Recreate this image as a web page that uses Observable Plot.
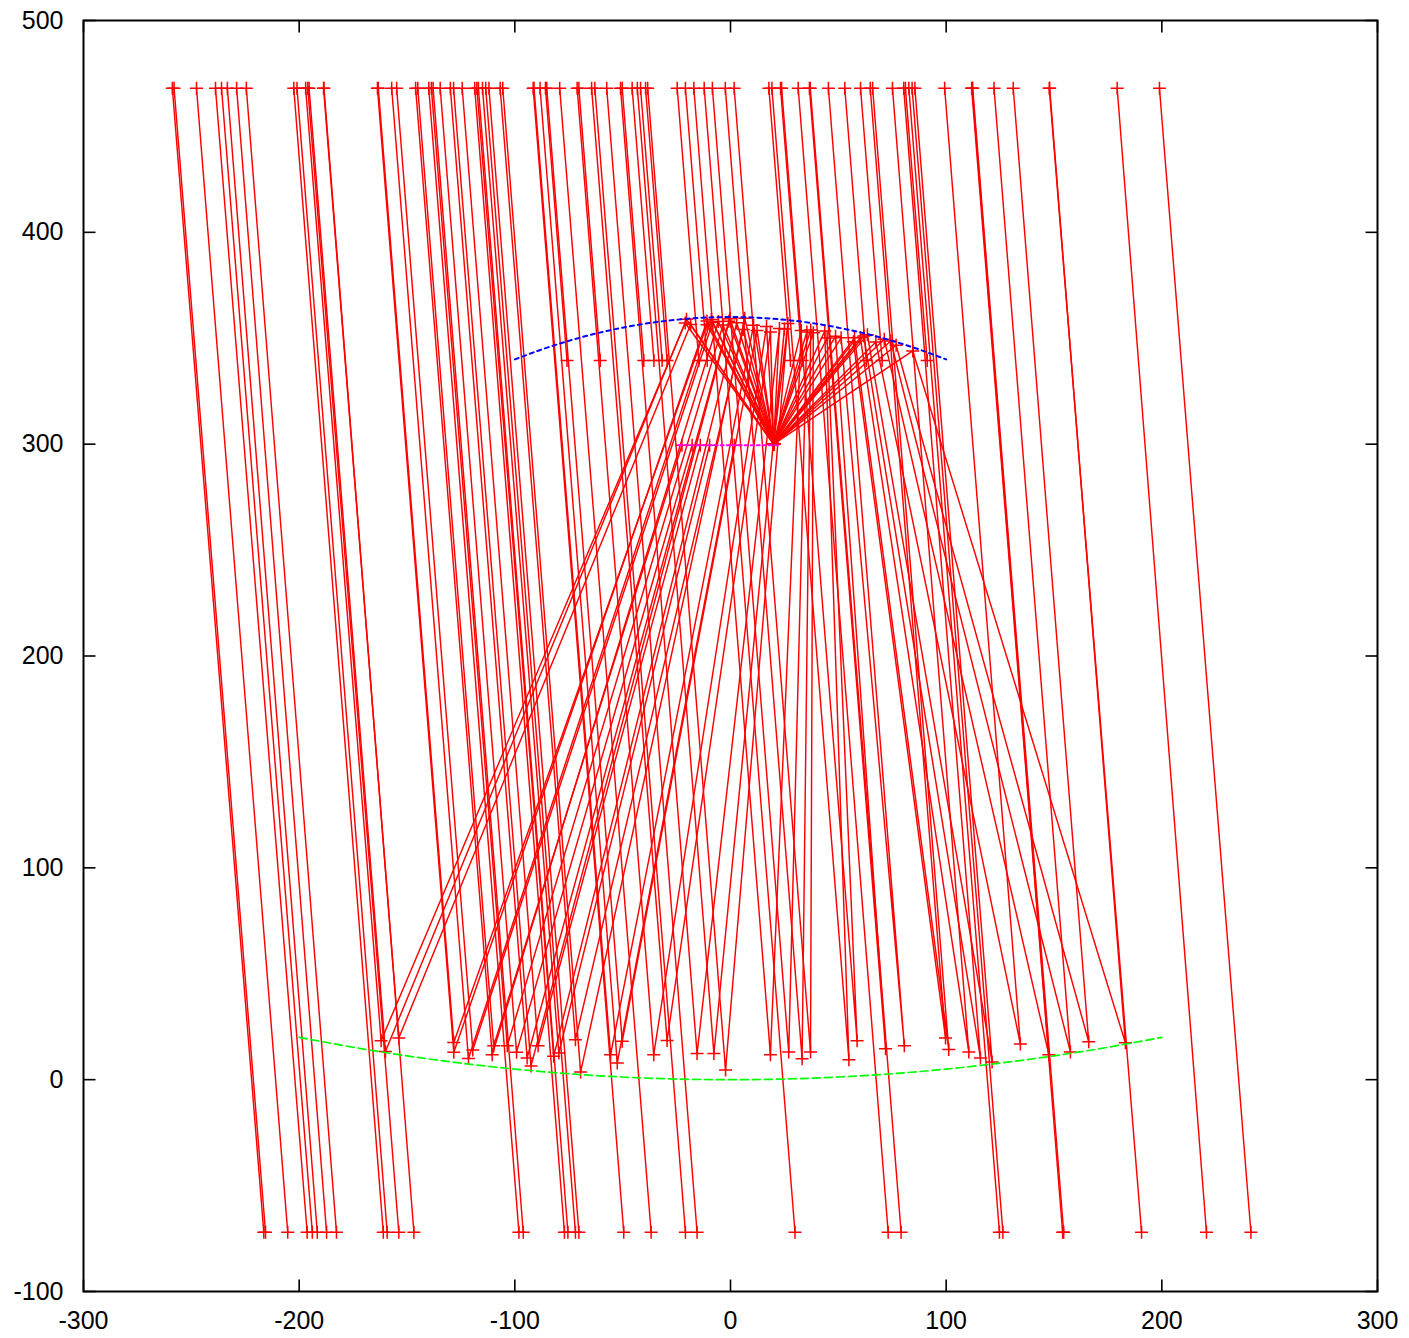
<!DOCTYPE html>
<html>
<head>
<meta charset="utf-8">
<script src="https://cdn.jsdelivr.net/npm/d3@7"></script>
<script src="https://cdn.jsdelivr.net/npm/@observablehq/plot@0.6"></script>
<style>
  html, body { margin: 0; padding: 0; background: #ffffff; overflow: hidden; }
  #chart { width: 1409px; height: 1338px; }
</style>
</head>
<body>
<div id="chart"></div>
<script>
// ---------- data ----------
const TOP_Y = 468;       // level where every ray enters
const BOTTOM_Y = -72;    // level where unreflected rays leave
const BLOCK_Y = 339.5;   // level where rays stop behind the secondary

// rays that pass straight through
const passTopX = [-258.8, -258.0, -247.6, -238.8, -236.0, -233.3, -229.0, -224.5, -202.5, -201.0, -196.0, -188.5,
  -139.9, -137.9, -118.6, -116.9, -113.5, -112.0, -91.5, -79.2, -62.9, -57.4, -12.2, 31.4, 37.0, 82.7, 84.2,
  111.8, 112.3, 147.8, 179.3, 198.9];
const passBottomX = [-216.4, -215.6, -205.3, -196.3, -193.9, -191.6, -187.3, -182.7, -161.0, -159.2, -153.8, -146.8,
  -98.1, -96.1, -77.0, -75.4, -71.9, -70.3, -49.5, -36.8, -20.9, -15.5, 29.9, 73.1, 79.1, 124.7, 126.3,
  154.0, 154.5, 190.6, 220.7, 241.3];

// rays stopped behind the secondary mirror
const blockTopX = [-85.8, -70.3, -50.2, -45.6, -41.7, -39.4, -24.7, -20.9, 17.8, 23.2, 53.0, 60.3, 81.1];
const blockX = [-75.8, -60.4, -40.2, -35.5, -31.7, -29.4, -14.7, -10.8, 27.8, 33.2, 63.0, 70.3, 91.2];

// rays reflected by the primary (then the secondary, then to the focus / detector)
const reflTopX = [-197.0, -195.4, -188.7, -163.3, -163.7, -157.1, -154.8, -146.0, -145.0, -138.7, -134.6, -129.9,
  -128.4, -124.4, -117.6, -115.0, -106.8, -105.6, -91.1, -88.3, -85.2, -71.1, -64.4, -51.0, -43.2, -38.4,
  -17.0, -8.4, -2.4, 1.7, 19.2, 23.7, 36.6, 45.4, 64.8, 65.9, 75.1, 80.3, 85.5, 99.3, 112.1, 122.2, 131.1, 148.0];
const primaryX = [-162, -160, -153.8, -128.3, -128.3, -121.5, -119.5, -110.5, -109.8, -103.5, -99.2, -94.3,
  -92.5, -89.2, -82, -79.6, -71.9, -69.5, -55.6, -52.5, -50.2, -35.6, -29.4, -15.5, -7.7, -2.3,
  18.5, 27, 33.2, 37.1, 54.9, 58.7, 71.9, 80.6, 99.7, 101.2, 110.5, 115.9, 121.3, 134.4, 147.6, 157.6, 166.1, 183.1];
const primaryY = [18.4, 13.3, 19.7, 17.6, 12.9, 10.0, 14.0, 11.8, 16.0, 16.0, 13.0, 10.2,
  6.5, 16.0, 11.0, 12.6, 18.9, 3.6, 11.8, 7.9, 18.1, 11.8, 18.5, 12.3, 12.3, 4.6,
  11.8, 13.1, 9.9, 13.1, 9.4, 18.4, 14.6, 16.0, 19.7, 14.2, 13.1, 10.2, 8.3, 16.8, 11.8, 13.1, 17.9, 17.4];
const secondaryX = [-21.0, -20.4, -18.5, -10.9, -10.9, -8.9, -8.3, -5.6, null, -3.5, null, -0.8,
  -0.3, null, 2.9, null, 5.9, 6.6, 10.7, null, 12.3, 16.7, 18.5, 22.7, 25.0, 26.6,
  32.8, 35.4, 37.2, 38.4, 43.7, 44.8, 48.7, 51.3, 57.0, 57.5, 60.2, 61.8, 63.5, 67.4, 71.3, 74.3, 76.8, 84.5];
const secondaryY = [357.2, 359.0, 356.5, 356.4, 358.1, 358.9, 357.4, 357.9, null, 356.2, null, 358.0,
  359.2, null, 357.3, null, 354.1, 359.5, 356.1, null, 353.7, 355.5, 352.9, 354.6, 354.4, 357.0,
  353.7, 353.0, 353.9, 352.6, 353.4, 350.1, 351.0, 350.2, 348.3, 350.2, 350.3, 351.1, 351.6, 348.2, 349.5, 348.7, 346.7, 344.0];
const endX = [20, 20, 20, 20, 20, 20, 20, 20, -22.5, 20, -17.8, 20,
  20, -14.0, 20, -9.7, 20, 20, 20, 1.8, 20, 20, 20, 20, 20, 20,
  20, 20, 20, 20, 20, 20, 20, 20, 20, 20, 20, 20, 20, 20, 20, 20, 20, 20];
const endY = [300, 300, 300, 300, 300, 300, 300, 300, 299.5, 300, 299.5, 300,
  300, 299.5, 300, 299.5, 300, 300, 300, 299.5, 300, 300, 300, 300, 300, 300,
  300, 300, 300, 300, 300, 300, 300, 300, 300, 300, 300, 300, 300, 300, 300, 300, 300, 300];

// mirror and detector outlines
const primaryMirrorX = [-200, -175, -150, -125, -100, -75, -50, -25, 0, 25, 50, 75, 100, 125, 150, 175, 200];
const primaryMirrorY = [20, 15.3, 11.25, 7.8, 5, 2.8, 1.25, 0.3, 0, 0.3, 1.25, 2.8, 5, 7.8, 11.25, 15.3, 20];
const secondaryMirrorX = [-100, -87.5, -75, -62.5, -50, -37.5, -25, -12.5, 0, 12.5, 25, 37.5, 50, 62.5, 75, 87.5, 100];
const secondaryMirrorY = [340, 344.7, 348.75, 352.2, 355, 357.2, 358.75, 359.7, 360, 359.7, 358.75, 357.2, 355, 352.2, 348.75, 344.7, 340];
const detectorX = [-24, 22];
const detectorY = [299.5, 299.5];

const xTicks = [-300, -200, -100, 0, 100, 200, 300];
const yTicks = [-100, 0, 100, 200, 300, 400, 500];

// ---------- build tables ----------
const rayPts = [];
passTopX.forEach((x0, i) => {
  rayPts.push({ray: "p" + i, x: x0, y: TOP_Y});
  rayPts.push({ray: "p" + i, x: passBottomX[i], y: BOTTOM_Y});
});
blockTopX.forEach((x0, i) => {
  rayPts.push({ray: "b" + i, x: x0, y: TOP_Y});
  rayPts.push({ray: "b" + i, x: blockX[i], y: BLOCK_Y});
});
reflTopX.forEach((x0, i) => {
  rayPts.push({ray: "r" + i, x: x0, y: TOP_Y});
  rayPts.push({ray: "r" + i, x: primaryX[i], y: primaryY[i]});
  if (secondaryX[i] != null) rayPts.push({ray: "r" + i, x: secondaryX[i], y: secondaryY[i]});
  rayPts.push({ray: "r" + i, x: endX[i], y: endY[i]});
});
const primaryPts = primaryMirrorX.map((x, i) => ({x, y: primaryMirrorY[i]}));
const secondaryPts = secondaryMirrorX.map((x, i) => ({x, y: secondaryMirrorY[i]}));
const detectorPts = detectorX.map((x, i) => ({x, y: detectorY[i]}));

// ---------- symbols ----------
const plusSym = {draw(ctx) { const r = 6.5; ctx.moveTo(-r, 0); ctx.lineTo(r, 0); ctx.moveTo(0, -r); ctx.lineTo(0, r); }};
const tickUp = {draw(ctx) { ctx.moveTo(0, 0); ctx.lineTo(0, -12); }};
const tickDown = {draw(ctx) { ctx.moveTo(0, 0); ctx.lineTo(0, 12); }};
const tickRight = {draw(ctx) { ctx.moveTo(0, 0); ctx.lineTo(12, 0); }};
const tickLeft = {draw(ctx) { ctx.moveTo(0, 0); ctx.lineTo(-12, 0); }};

const RED = "#ff0000";

const chart = Plot.plot({
  width: 1409,
  height: 1338,
  marginLeft: 83,
  marginRight: 32,
  marginTop: 20,
  marginBottom: 47,
  style: {fontFamily: "'Liberation Sans', Arial, Helvetica, sans-serif", fontSize: "25px", background: "#ffffff", color: "#000000", overflow: "visible"},
  x: {domain: [-300, 300]},
  y: {domain: [-100, 500]},
  marks: [
    Plot.line(rayPts, {x: "x", y: "y", z: "ray", stroke: RED, strokeWidth: 1.45}),
    Plot.dot(rayPts, {x: "x", y: "y", symbol: plusSym, stroke: RED, fill: "none", strokeWidth: 1.5}),
    Plot.line(primaryPts, {x: "x", y: "y", stroke: "#00ff00", strokeWidth: 1.7, strokeDasharray: "8,4", curve: "natural"}),
    Plot.line(secondaryPts, {x: "x", y: "y", stroke: "#0000ff", strokeWidth: 2, strokeDasharray: "4,4", curve: "natural"}),
    Plot.line(detectorPts, {x: "x", y: "y", stroke: "#ff00ff", strokeWidth: 2, strokeDasharray: "3,3"}),
    Plot.frame({stroke: "#000000", strokeWidth: 2}),
    Plot.dot(xTicks, {x: d => d, y: () => -100, symbol: tickUp, stroke: "#000000", fill: "none", strokeWidth: 1.6}),
    Plot.dot(xTicks, {x: d => d, y: () => 500, symbol: tickDown, stroke: "#000000", fill: "none", strokeWidth: 1.6}),
    Plot.dot(yTicks, {x: () => -300, y: d => d, symbol: tickRight, stroke: "#000000", fill: "none", strokeWidth: 1.6}),
    Plot.dot(yTicks, {x: () => 300, y: d => d, symbol: tickLeft, stroke: "#000000", fill: "none", strokeWidth: 1.6}),
    Plot.axisX({ticks: xTicks, tickSize: 0, tickPadding: 20, tickFormat: d => String(d), label: null, fontSize: 25}),
    Plot.axisY({ticks: yTicks, tickSize: 0, tickPadding: 20, tickFormat: d => String(d), label: null, fontSize: 25})
  ]
});
document.getElementById("chart").appendChild(chart);
</script>
</body>
</html>
